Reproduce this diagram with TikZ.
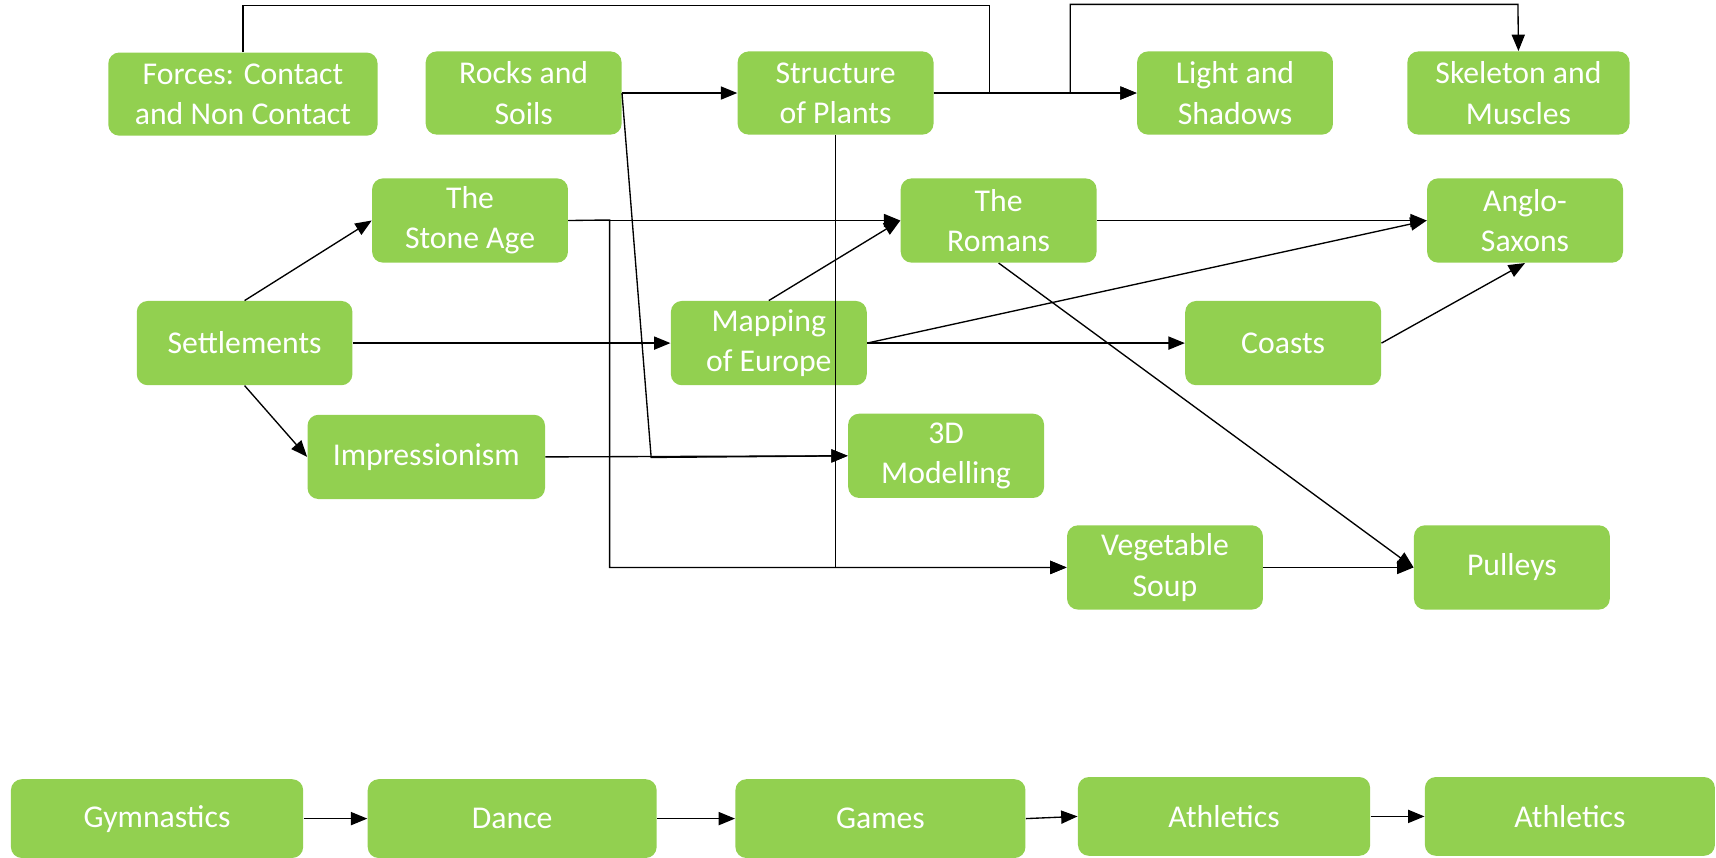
\documentclass[tikz,border=0pt]{standalone}
\usepackage{fontspec}
\setmainfont{Carlito}
\usetikzlibrary{arrows.meta}
\definecolor{boxgreen}{HTML}{92D050}
\tikzset{
  box/.style={fill=boxgreen, rounded corners=0.2cm, text=white, align=center,
    inner sep=0pt, font=\fontsize{16.5}{21}\selectfont},
  conn/.style={line width=0.7pt, draw=black},
  arr/.style={conn, -{Triangle[length=0.3cm, width=0.24cm]}}
}
\newcommand{\bx}[6]{\node[box, minimum width={(#4-#2)*0.02cm}, minimum height={(#5-#3)*0.02cm}] (#1) at ({(#2+#4)/2},{(#3+#5)/2}) {#6};}
\begin{document}
\begin{tikzpicture}[x=0.02cm, y=-0.02cm]
\useasboundingbox (0,0) rectangle (1568,784);
% nodes
\bx{forces}{99}{48}{345}{124}{Forces: Contact\\and Non Contact}
\bx{rocks}{389}{47}{568}{123}{Rocks and\\Soils}
\bx{plants}{674}{47}{853}{123}{Structure\\of Plants}
\bx{light}{1039}{47}{1218}{123}{Light and\\Shadows}
\bx{skel}{1286}{47}{1489}{123}{Skeleton and\\Muscles}
\bx{stone}{340}{163}{519}{240}{The\\Stone Age}
\bx{romans}{823}{163}{1002}{240}{The\\Romans}
\bx{anglo}{1304}{163}{1483}{240}{Anglo-\\Saxons}
\bx{settle}{125}{275}{322}{352}{Settlements}
\bx{mapping}{613}{275}{792}{352}{Mapping\\of Europe}
\bx{coasts}{1083}{275}{1262}{352}{Coasts}
\bx{impr}{281}{379}{498}{456}{Impressionism}
\bx{model}{775}{378}{954}{455}{3D\\Modelling}
\bx{veg}{975}{480}{1154}{557}{Vegetable\\Soup}
\bx{pulleys}{1292}{480}{1471}{557}{Pulleys}
\bx{gym}{10}{712}{277}{784}{Gymnastics}
\bx{dance}{336}{712}{600}{784}{Dance}
\bx{games}{672}{712}{937}{784}{Games}
\bx{ath}{985}{710}{1252}{782}{Athletics}
\bx{athb}{1302}{710}{1567}{782}{Athletics}
% coordinates
\coordinate (f1) at (222,5);
\coordinate (f2) at (904,5);
\coordinate (f3) at (904,85);
\coordinate (s1) at (978,85);
\coordinate (s2) at (978,4);
\coordinate (s3) at (1387,4);
\coordinate (r1) at (595,418);
\coordinate (st1) at (557,201);
% connectors
\draw[arr] (forces.north) -- (f1) -- (f2) -- (f3) -- (light.west);
\draw[arr] (plants.east) -- (light.west);
\draw[arr] (plants.east) -- (s1) -- (s2) -- (s3) -- (skel.north);
\draw[arr] (rocks.east) -- (plants.west);
\draw[arr] (rocks.east) -- (r1) -- (model.west);
\draw[arr] (impr.east) -- (model.west);
\draw[arr] (plants.south) |- (veg.west);
\draw[arr] (stone.east) -- (romans.west);
\draw[arr] (stone.east) -- (st1) |- (veg.west);
\draw[arr] (settle.north) -- (stone.west);
\draw[arr] (settle.east) -- (mapping.west);
\draw[arr] (settle.south) -- (impr.west);
\draw[arr] (mapping.north) -- (romans.west);
\draw[arr] (mapping.east) -- (anglo.west);
\draw[arr] (mapping.east) -- (coasts.west);
\draw[arr] (coasts.east) -- (anglo.south);
\draw[arr] (romans.east) -- (anglo.west);
\draw[arr] (romans.south) -- (pulleys.west);
\draw[arr] (veg.east) -- (pulleys.west);
\draw[arr] (gym.east) -- (dance.west);
\draw[arr] (dance.east) -- (games.west);
\draw[arr] (games.east) -- (ath.west);
\draw[arr] (ath.east) -- (athb.west);
\end{tikzpicture}
\end{document}
